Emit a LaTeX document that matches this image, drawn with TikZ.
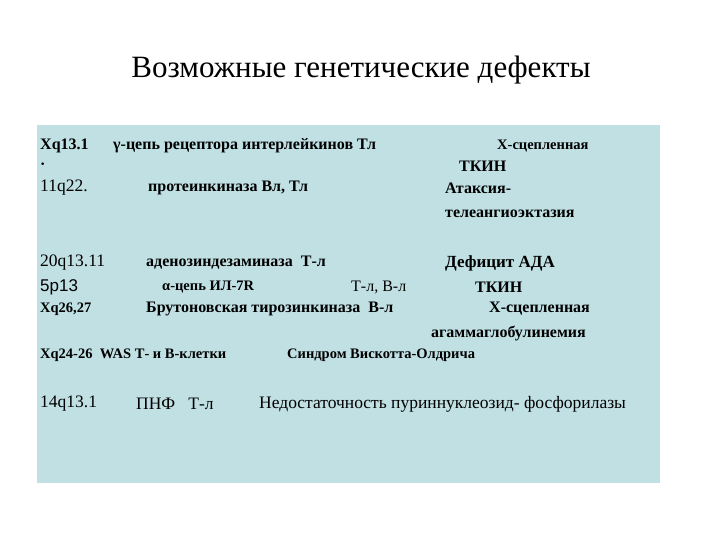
\documentclass[tikz,border=0pt]{standalone}
\usepackage{fontspec}
\setmainfont{Liberation Serif}[BoldFont={Liberation Serif Bold},ItalicFont={Liberation Serif Italic}]
\setsansfont{Liberation Sans}
\definecolor{boxc}{RGB}{192,224,228}
\begin{document}
\begin{tikzpicture}[x=1pt,y=-1pt,
  t/.style={anchor=west,inner sep=0pt,font=\bfseries\fontsize{16}{18}\selectfont},
  n/.style={anchor=west,inner sep=0pt,font=\fontsize{17.5}{20}\selectfont}]
\useasboundingbox (0,0) rectangle (720,540);
\fill[boxc] (37,125) rectangle (660,483);
\node[inner sep=0pt,font=\fontsize{31}{34}\selectfont] (title) at (361,70) {Возможные генетические дефекты};
\node[t] (a1) at (40,146) {Xq13.1};
\node[t] (a2) at (113,146) {γ-цепь рецептора интерлейкинов Тл};
\node[t,font=\bfseries\fontsize{14.5}{16}\selectfont] (a3) at (497,146) {X-сцепленная};
\node[t] (b1) at (40,166) {·};
\node[t] (b2) at (459,166) {ТКИН};
\node[n] (c1) at (40,188) {11q22.};
\node[t] (c2) at (148,188) {протеинкиназа Вл, Тл};
\node[t] (c3) at (445,188) {Атаксия-};
\node[t] (c4) at (445,214) {телеангиоэктазия};
\node[n] (d1) at (40,263) {20q13.11};
\node[t] (d2) at (146,263) {аденозиндезаминаза\ \ Т-л};
\node[t,font=\bfseries\fontsize{17}{19}\selectfont] (d3) at (445,263) {Дефицит АДА};
\node[n,font=\fontsize{17}{19}\selectfont\sffamily] (e1) at (40,287) {5p13};
\node[t,font=\bfseries\fontsize{14.5}{16}\selectfont] (e2) at (162,287) {α-цепь ИЛ-7R};
\node[n,font=\fontsize{16}{18}\selectfont] (e3) at (351,287) {Т-л, В-л};
\node[t] (e4) at (475,287) {ТКИН};
\node[t,font=\bfseries\fontsize{14.5}{16}\selectfont] (f1) at (40,309) {Xq26,27};
\node[t] (f2) at (146,309) {Брутоновская тирозинкиназа\ \ В-л};
\node[t] (f3) at (489,309) {X-сцепленная};
\node[t] (f4) at (431,333) {агаммаглобулинемия};
\node[t,font=\bfseries\fontsize{14.5}{16}\selectfont] (g1) at (40,355) {Xq24-26\ \ WAS Т- и В-клетки};
\node[t,font=\bfseries\fontsize{14.5}{16}\selectfont] (g2) at (287,355) {Синдром Вискотта-Олдрича};
\node[n] (h1) at (40,404) {14q13.1};
\node[n] (h2) at (136,404) {ПНФ\ \ \ Т-л};
\node[n] (h3) at (259,404) {Недостаточность пуриннуклеозид- фосфорилазы};
\end{tikzpicture}
\end{document}
